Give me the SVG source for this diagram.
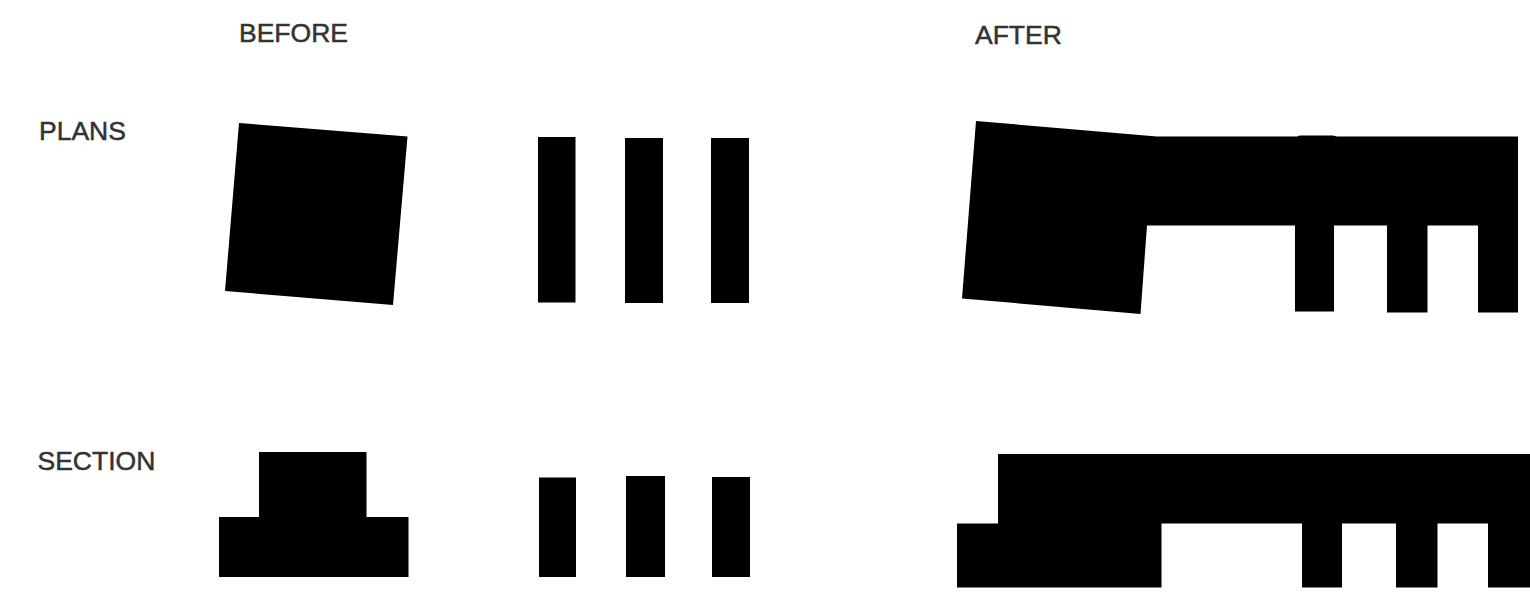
<svg xmlns="http://www.w3.org/2000/svg" width="1530" height="601" viewBox="0 0 1530 601">
<style>
.s{fill:#000}
.t{font-family:"Liberation Sans",Arial,sans-serif;font-size:26.5px;fill:#333;stroke:#333;stroke-width:.5px}
</style>
<rect width="1530" height="601" fill="#fff"/>
<g id="labels">
<text class="t" x="239" y="41.5">BEFORE</text>
<text class="t" x="975" y="43.5">AFTER</text>
<text class="t" x="39" y="139.5">PLANS</text>
<text class="t" x="37.500" y="470">SECTION</text>
</g>
<g id="plan-before">
<polygon class="s" points="239,123 407.500,136.500 393,305 225,291"/>
<rect class="s" x="538" y="137" width="37.500" height="165.500"/>
<rect class="s" x="625" y="138" width="38" height="165"/>
<rect class="s" x="711" y="138" width="38" height="165"/>
</g>
<g id="plan-after">
<polygon class="s" points="976,121 1157,136.500 1297,136.500 1300,135.500 1333,135.500 1337,136.500 1518,136.500 1518,312.500 1478,312.500 1478,225.500 1427.500,225.500 1427.500,312.500 1387,312.500 1387,225.500 1334,225.500 1334,311.500 1295,311.500 1295,225.500 1147,225.500 1140.500,314 962,298.500"/>
</g>
<g id="section-before">
<polygon class="s" points="259,452 366.500,452 366.500,517 408.500,517 408.500,577 219,577 219,517 259,517"/>
<rect class="s" x="539" y="477.500" width="37" height="99.500"/>
<rect class="s" x="626" y="476" width="39" height="101"/>
<rect class="s" x="712" y="477" width="38" height="100"/>
</g>
<g id="section-after">
<polygon class="s" points="998,454 1530,454 1530,587.500 1488,587.500 1488,523.500 1437.500,523.500 1437.500,587.500 1396,587.500 1396,523.500 1342,523.500 1342,587.500 1302,587.500 1302,523.500 1161.500,523.500 1161.500,587.500 957,587.500 957,523.500 998,523.500"/>
</g>
</svg>
